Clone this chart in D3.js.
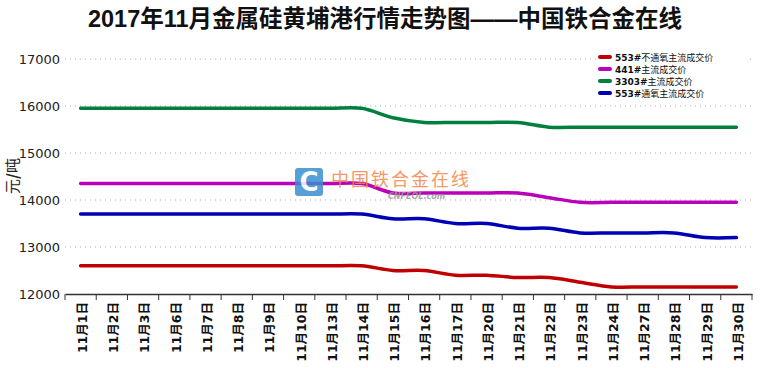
<!DOCTYPE html>
<meta charset="utf-8" />
<style>
  body { margin: 0; background: #fff; }
</style>
<svg width="760" height="368"></svg>
<script src="https://d3js.org/d3.v7.min.js"></script>
<script>
    // data
    var dates = ["11月1日", "11月2日", "11月3日", "11月6日", "11月7日", "11月8日", "11月9日", "11月10日",
        "11月13日", "11月14日", "11月15日", "11月16日", "11月17日", "11月20日", "11月21日", "11月22日",
        "11月23日", "11月24日", "11月27日", "11月28日", "11月29日", "11月30日"];

    var s553n = [12600, 12600, 12600, 12600, 12600, 12600, 12600, 12600, 12600, 12600,
        12500, 12500, 12400, 12400, 12350, 12350, 12250, 12150, 12150, 12150, 12150, 12150];
    var s441 = [14350, 14350, 14350, 14350, 14350, 14350, 14350, 14350, 14350, 14350,
        14150, 14150, 14150, 14150, 14150, 14050, 13950, 13950, 13950, 13950, 13950, 13950];
    var s3303 = [15950, 15950, 15950, 15950, 15950, 15950, 15950, 15950, 15950, 15950,
        15750, 15650, 15650, 15650, 15650, 15550, 15550, 15550, 15550, 15550, 15550, 15550];
    var s553t = [13700, 13700, 13700, 13700, 13700, 13700, 13700, 13700, 13700, 13700,
        13600, 13600, 13500, 13500, 13400, 13400, 13300, 13300, 13300, 13300, 13200, 13200];

    var yTicks = [12000, 13000, 14000, 15000, 16000, 17000];

    var seriesNames = ["553#不通氧主流成交价", "441#主流成交价", "3303#主流成交价", "553#通氧主流成交价"];
    var seriesColors = ["#c00000", "#bb00bb", "#00803c", "#0000b4"];
    var seriesValues = [s553n, s441, s3303, s553t];

    var svg = d3.select("svg");

    // plot area edges (note: "top" is taken by window.top)
    var pLeft = 65, pRight = 752, pTop = 59, pBottom = 294;

    var x = d3.scaleBand().domain(dates).range([pLeft, pRight]);
    var y = d3.scaleLinear().domain([12000, 17000]).range([pBottom, pTop]);

    // title
    svg.append("text")
        .attr("x", 385)
        .attr("y", 27)
        .attr("text-anchor", "middle")
        .style("font-family", "'Liberation Sans', 'Noto Sans CJK SC', sans-serif")
        .style("font-size", "23.5px")
        .style("font-weight", "bold")
        .attr("fill", "#111")
        .text("2017年11月金属硅黄埔港行情走势图——中国铁合金在线");

    // gridlines
    svg.append("g")
        .selectAll("line")
        .data(yTicks.slice(1))
        .enter()
        .append("line")
        .attr("x1", pLeft)
        .attr("x2", pRight)
        .attr("y1", d => y(d))
        .attr("y2", d => y(d))
        .attr("stroke", "#aaa")
        .attr("stroke-width", 1)
        .attr("stroke-dasharray", "1,4");

    // y axis labels
    var yAxis = svg.append("g")
        .attr("transform", "translate(" + pLeft + ",0)")
        .call(d3.axisLeft(y).tickValues(yTicks).tickSize(0).tickPadding(5).tickFormat(d3.format("d")));
    yAxis.select(".domain").remove();
    yAxis.selectAll("text")
        .style("font-family", "'DejaVu Sans', sans-serif")
        .style("font-size", "13px")
        .attr("fill", "#222");

    var yTitle = svg.append("text")
        .attr("transform", "translate(18,176) rotate(-90)")
        .attr("text-anchor", "middle")
        .style("font-family", "'Noto Sans CJK SC', sans-serif")
        .style("font-size", "15px")
        .attr("fill", "#222");
    yTitle.append("tspan").text("元");
    yTitle.append("tspan").style("font-weight", "bold").text("/");
    yTitle.append("tspan").text("吨");

    // x axis with ticks on band edges
    var xAxis = svg.append("g")
        .attr("transform", "translate(0," + pBottom + ")")
        .call(d3.axisBottom(x).tickSize(0).tickPadding(0));
    xAxis.select(".domain").attr("stroke", "#333").attr("stroke-width", 1.5);
    xAxis.append("g")
        .selectAll("line")
        .data(dates)
        .enter()
        .append("line")
        .attr("x1", d => x(d) + x.bandwidth())
        .attr("x2", d => x(d) + x.bandwidth())
        .attr("y1", 0)
        .attr("y2", 6)
        .attr("stroke", "#333");
    xAxis.append("line")
        .attr("x1", pLeft).attr("x2", pLeft)
        .attr("y1", 0).attr("y2", 6)
        .attr("stroke", "#333");
    xAxis.selectAll(".tick text")
        .attr("transform", "translate(2,8) rotate(-90)")
        .attr("text-anchor", "end")
        .attr("dy", "0.35em")
        .attr("y", 0)
        .attr("x", 0)
        .style("font-family", "'DejaVu Sans', 'Noto Sans CJK SC', sans-serif")
        .style("font-size", "12.5px")
        .style("font-weight", "bold")
        .attr("fill", "#111");

    // lines
    var line = d3.line()
        .x((d, i) => x(dates[i]) + x.bandwidth() / 2)
        .y(d => y(d))
        .curve(d3.curveCatmullRom);

    svg.append("g")
        .selectAll("path")
        .data(seriesValues)
        .enter()
        .append("path")
        .attr("d", d => line(d))
        .attr("fill", "none")
        .attr("stroke", (d, i) => seriesColors[i])
        .attr("stroke-width", 3.5)
        .attr("stroke-linecap", "round");

    // watermark sits over the lines
    var wm = svg.append("g").attr("opacity", 0.85);
    wm.append("rect")
        .attr("x", 295).attr("y", 168).attr("width", 28).attr("height", 28).attr("rx", 3)
        .attr("fill", "#3a8fd0");
    wm.append("text")
        .attr("x", 309).attr("y", 191)
        .attr("text-anchor", "middle")
        .style("font-family", "'DejaVu Sans', sans-serif")
        .style("font-size", "26px")
        .style("font-weight", "bold")
        .attr("fill", "#fff")
        .text("C");
    wm.append("text")
        .attr("x", 331).attr("y", 186)
        .style("font-family", "'Noto Sans CJK SC', sans-serif")
        .style("font-size", "18px")
        .style("letter-spacing", "2px")
        .attr("fill", "#f5874a")
        .text("中国铁合金在线");
    wm.append("text")
        .attr("x", 388).attr("y", 199)
        .style("font-family", "'DejaVu Sans', sans-serif")
        .style("font-size", "8px")
        .style("font-style", "italic")
        .style("font-weight", "bold")
        .attr("fill", "#999")
        .text("CNFEOL.com");

    // legend
    var legend = svg.append("g").attr("transform", "translate(596,50)");
    legend.append("rect")
        .attr("x", 0).attr("y", 0).attr("width", 150).attr("height", 48)
        .attr("fill", "#fff");
    var items = legend.selectAll("g.item")
        .data(seriesNames)
        .enter()
        .append("g")
        .attr("class", "item")
        .attr("transform", (d, i) => "translate(0," + (7 + i * 12) + ")");
    items.append("line")
        .attr("x1", 4).attr("x2", 14)
        .attr("y1", 0).attr("y2", 0)
        .attr("stroke", (d, i) => seriesColors[i])
        .attr("stroke-width", 4)
        .attr("stroke-linecap", "round");
    var lt = items.append("text")
        .attr("x", 19).attr("y", 3.5)
        .style("font-size", "9px")
        .attr("fill", "#111");
    lt.append("tspan")
        .style("font-family", "'DejaVu Sans', sans-serif")
        .style("font-weight", "bold")
        .text(d => d.split("#")[0] + "#");
    lt.append("tspan")
        .style("font-family", "'Noto Sans CJK SC', serif")
        .text(d => d.split("#")[1]);
</script>
